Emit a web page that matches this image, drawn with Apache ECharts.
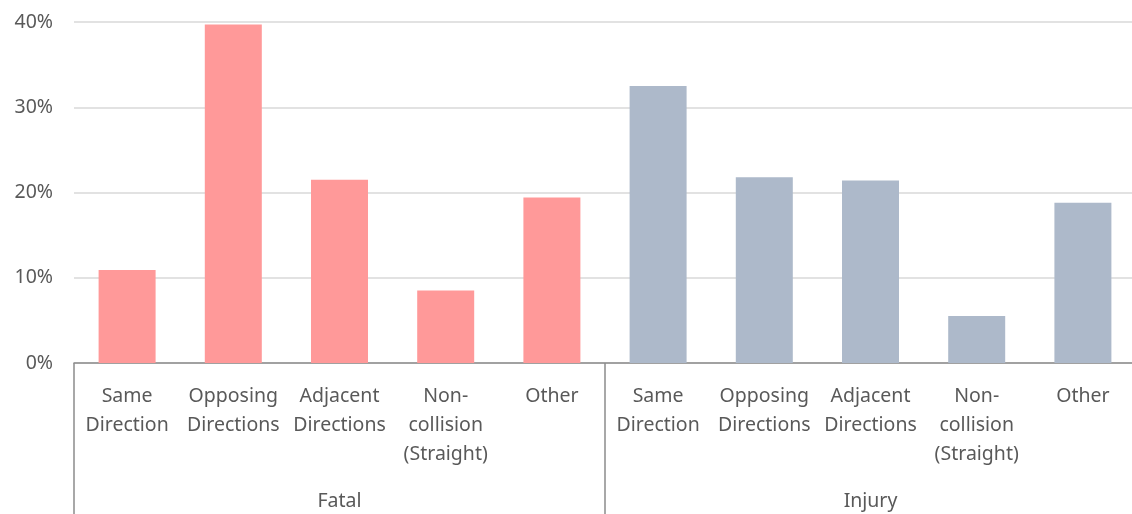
<!DOCTYPE html>
<html>
<head>
<meta charset="utf-8">
<script src="https://cdn.jsdelivr.net/npm/echarts@6/dist/echarts.min.js"></script>
<style>html,body{margin:0;padding:0;background:#fff;}#chart{width:1132px;height:514px;}</style>
</head>
<body>
<div id="chart"></div>
<script>
const categories = ['Same\nDirection', 'Opposing\nDirections', 'Adjacent\nDirections', 'Non-\ncollision\n(Straight)', 'Other'];
const groups = ['Fatal', 'Injury'];
const fatalValues = [10.9, 39.7, 21.5, 8.5, 19.4];
const injuryValues = [32.5, 21.8, 21.4, 5.5, 18.8];
const yTicks = { min: 0, max: 40, interval: 10 };
const groupColors = ['#FF9999', '#ADB9CA'];

const allCats = categories.concat(categories);
const barData = fatalValues.map(v => ({ value: v, itemStyle: { color: groupColors[0] } }))
  .concat(injuryValues.map(v => ({ value: v, itemStyle: { color: groupColors[1] } })));

const font = 'Noto Sans';
const chart = echarts.init(document.getElementById('chart'));
chart.setOption({
  animation: false,
  grid: { left: 74, top: 22, right: -4, bottom: 151, outerBoundsMode: 'none', containLabel: false },
  xAxis: [
    {
      type: 'category', data: allCats, position: 'bottom',
      axisLine: { show: true, lineStyle: { color: '#8c8c8c', width: 1.5 } },
      axisTick: { show: false },
      axisLabel: { color: '#595959', fontFamily: font, fontSize: 19.5, lineHeight: 29, margin: 19, interval: 0 }
    },
    {
      type: 'category', data: groups, position: 'bottom', offset: 0,
      axisLine: { show: false },
      axisTick: { show: true, length: 152, lineStyle: { color: '#8c8c8c', width: 1.5 } },
      axisLabel: { color: '#595959', fontFamily: font, fontSize: 19.5, margin: 128, interval: 0 }
    }
  ],
  yAxis: {
    type: 'value', min: yTicks.min, max: yTicks.max, interval: yTicks.interval,
    axisLine: { show: false }, axisTick: { show: false },
    splitLine: { lineStyle: { color: '#d9d9d9', width: 1.5 } },
    axisLabel: { formatter: '{value}%', color: '#595959', fontFamily: font, fontSize: 19.5, margin: 21 }
  },
  series: [{
    type: 'bar', xAxisIndex: 0, data: barData, barWidth: 57
  }]
});
</script>
</body>
</html>
